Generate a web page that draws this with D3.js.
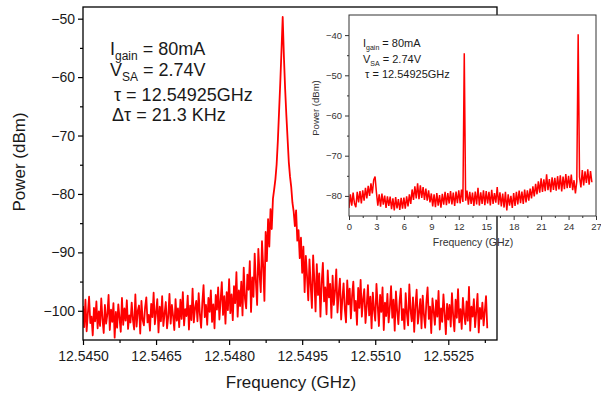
<!DOCTYPE html>
<html>
<head>
<meta charset="utf-8">
<script src="https://cdn.jsdelivr.net/npm/d3@7"></script>
<style>
  html, body { margin: 0; padding: 0; background: #fff; }
  svg { display: block; }
  text { white-space: pre; }
</style>
</head>
<body>
<div id="chart"></div>
<script>
// ---- main spectrum (zoom on the fundamental) ----
const mainFreqStart = 12.545;     // GHz, first sample
const mainFreqStep = 0.000025;    // GHz between samples
const mainPower = [
  -99.2,-102.8,-98.1,-103.5,-100.4,-97.6,-102.1,-101.0,-104.2,-99.5,
  -101.8,-98.4,-103.0,-100.1,-102.6,-97.9,-101.4,-103.8,-99.0,-102.2,
  -100.6,-97.3,-103.3,-99.8,-101.9,-98.7,-104.6,-100.2,-102.9,-98.9,
  -101.2,-103.6,-97.8,-102.4,-99.6,-101.7,-98.2,-103.1,-100.8,-102.0,
  -98.6,-101.5,-103.2,-97.2,-102.7,-100.0,-99.1,-103.9,-98.3,-101.6,
  -102.5,-99.4,-97.7,-102.0,-100.7,-103.4,-98.8,-101.1,-96.9,-102.3,
  -100.3,-98.0,-103.7,-99.3,-101.8,-97.5,-102.6,-100.5,-98.5,-103.0,
  -101.0,-97.1,-102.2,-99.0,-100.9,-103.3,-98.0,-101.7,-99.6,-102.8,
  -98.1,-101.4,-96.8,-102.5,-99.7,-100.9,-97.4,-103.2,-99.1,-101.6,
  -96.2,-102.0,-99.5,-98.3,-101.8,-97.0,-100.6,-102.9,-98.6,-95.6,
  -101.1,-99.0,-102.4,-97.8,-100.2,-96.5,-101.9,-98.9,-103.0,-97.3,
  -99.8,-96.0,-101.5,-98.2,-95.1,-100.7,-97.5,-102.2,-96.8,-99.9,
  -94.6,-100.4,-97.2,-101.6,-95.8,-98.7,-93.4,-101.0,-96.5,-99.2,
  -95.0,-100.8,-92.6,-97.9,-99.6,-93.8,-96.4,-91.5,-100.2,-94.3,
  -97.6,-90.2,-95.1,-99.0,-89.4,-93.7,-96.8,-88.1,-92.5,-98.3,
  -86.5,-91.5,-84.3,-89.0,-82.6,-86.0,-80.8,-79.2,-77.5,-75.0,
  -71.0,-66.0,-61.0,-55.5,-49.7,-56.5,-62.0,-66.5,-70.5,-74.5,
  -77.0,-78.8,-81.5,-83.0,-85.5,-82.8,-88.0,-86.2,-91.0,-87.5,
  -93.5,-89.0,-96.8,-90.6,-94.1,-98.2,-91.2,-95.7,-99.5,-90.5,
  -94.8,-100.1,-92.0,-97.3,-93.6,-101.0,-95.2,-91.8,-98.4,-96.0,
  -100.6,-93.1,-97.7,-95.4,-101.2,-94.0,-99.0,-96.6,-92.9,-100.3,
  -97.0,-94.5,-101.5,-98.0,-95.3,-99.7,-102.0,-94.8,-98.9,-96.2,
  -101.3,-97.4,-95.0,-100.0,-98.3,-102.4,-96.1,-99.5,-94.7,-101.0,
  -98.0,-96.3,-102.1,-99.2,-95.6,-100.8,-97.6,-103.0,-96.9,-99.8,
  -101.7,-95.4,-99.0,-102.6,-97.3,-100.2,-96.0,-103.3,-98.6,-100.9,
  -97.1,-102.0,-99.4,-95.8,-101.2,-98.1,-103.4,-96.7,-100.0,-102.3,
  -98.4,-96.2,-101.6,-99.7,-103.1,-97.0,-100.5,-102.5,-95.5,-99.9,
  -101.8,-97.7,-103.6,-99.1,-96.4,-102.2,-100.3,-98.0,-103.0,-97.4,
  -100.7,-102.9,-98.5,-96.0,-101.4,-99.3,-103.8,-97.9,-100.1,-102.4,
  -98.2,-101.0,-96.6,-103.2,-99.6,-101.9,-97.2,-100.4,-104.0,-98.8,
  -101.5,-99.0,-102.7,-97.0,-100.8,-103.5,-98.1,-101.2,-96.3,-102.0,
  -99.7,-103.1,-97.8,-100.6,-102.3,-98.4,-101.7,-95.9,-103.4,-99.3,
  -101.0,-98.0,-102.8,-100.2,-97.1,-103.7,-99.5,-101.4,-98.6,-102.5,
  -100.0,-97.5,-103.0
];

const mainXTicks = [12.5450, 12.5465, 12.5480, 12.5495, 12.5510, 12.5525];
const mainXMinor = [12.54575, 12.54725, 12.54875, 12.55025, 12.55175, 12.55325];
const mainYTicks = [-100, -90, -80, -70, -60, -50];
const mainYMinor = [-95, -85, -75, -65, -55];

// ---- inset spectrum (full span) ----
const insetFreqStart = 0;        // GHz
const insetFreqStep = 0.15;      // GHz between samples
const insetPower = [
  -83.0,-79.6,-82.4,-79.2,-81.9,-82.8,-79.0,-81.6,-78.8,-81.9,
  -78.6,-81.2,-78.0,-80.6,-77.5,-80.0,-76.9,-79.4,-76.0,-75.2,
  -79.2,-82.4,-79.6,-82.7,-79.4,-82.2,-79.9,-83.0,-80.1,-82.5,
  -80.2,-83.3,-80.6,-83.6,-80.3,-83.1,-80.8,-83.5,-80.5,-83.2,
  -80.4,-83.2,-80.1,-82.6,-79.6,-82.0,-78.4,-81.0,-77.6,-80.6,
  -76.9,-80.8,-77.4,-80.5,-77.8,-81.0,-78.2,-81.2,-78.6,-81.6,
  -79.4,-82.6,-79.6,-82.8,-79.3,-82.4,-79.8,-82.9,-79.5,-82.2,
  -79.0,-82.3,-79.3,-81.9,-78.8,-82.1,-79.2,-82.5,-78.9,-81.8,
  -78.6,-81.9,-78.4,-81.5,-44.5,-81.2,-78.7,-82.2,-79.0,-82.0,
  -79.2,-82.5,-78.9,-82.1,-78.0,-82.4,-79.1,-82.0,-78.6,-82.3,
  -78.8,-81.9,-79.0,-82.4,-78.5,-82.0,-79.3,-81.7,-77.8,-82.2,
  -79.1,-82.6,-79.4,-82.9,-79.0,-83.6,-79.6,-82.4,-80.0,-83.0,
  -79.3,-82.5,-79.0,-82.1,-78.7,-81.8,-78.9,-82.0,-78.4,-81.6,
  -78.6,-81.2,-78.2,-80.6,-77.6,-80.1,-77.0,-79.6,-76.4,-79.2,
  -75.6,-79.0,-75.9,-78.8,-74.6,-78.6,-75.8,-79.1,-75.4,-78.5,
  -75.5,-78.7,-75.1,-78.4,-74.9,-78.9,-75.2,-78.3,-74.6,-78.1,
  -75.0,-78.0,-74.7,-78.6,-76.1,-79.4,-76.4,-39.8,-75.3,-77.9,
  -73.6,-77.4,-73.9,-76.8,-73.4,-77.2,-73.8,-76.6
];

const insetXTicks = [0, 3, 6, 9, 12, 15, 18, 21, 24, 27];
const insetXMinor = [1.5, 4.5, 7.5, 10.5, 13.5, 16.5, 19.5, 22.5, 25.5];
const insetYTicks = [-80, -70, -60, -50, -40];
const insetYMinor = [-75, -65, -55, -45];

const FONT = '"Liberation Sans", Arial, Helvetica, sans-serif';
const RED = '#ff0000';

// creating svg
const svg = d3.select('#chart')
    .append('svg')
    .attr('width', 601)
    .attr('height', 394)
    .attr('font-family', FONT);

svg.append('rect').attr('width', 601).attr('height', 394).attr('fill', '#fff');

// ---------------- main chart ----------------
const mainBox = { left: 83, right: 497, top: 7, bottom: 340 };

const mainX = d3.scaleLinear()
    .domain([12.545, 12.5535])
    .range([mainBox.left, mainBox.right]);

const mainY = d3.scaleLinear()
    .domain([-105, -48])
    .range([mainBox.bottom, mainBox.top]);

svg.append('clipPath').attr('id', 'main-clip')
    .append('rect')
    .attr('x', mainBox.left).attr('y', mainBox.top)
    .attr('width', mainBox.right - mainBox.left)
    .attr('height', mainBox.bottom - mainBox.top);

// spectrum line
svg.append('path')
    .datum(mainPower)
    .attr('clip-path', 'url(#main-clip)')
    .attr('fill', 'none')
    .attr('stroke', RED)
    .attr('stroke-width', 1.8)
    .attr('stroke-linejoin', 'round')
    .attr('d', d3.line()
        .x((d, i) => mainX(mainFreqStart + i * mainFreqStep))
        .y(d => mainY(d)));

// frame
svg.append('rect')
    .attr('x', mainBox.left).attr('y', mainBox.top)
    .attr('width', mainBox.right - mainBox.left)
    .attr('height', mainBox.bottom - mainBox.top)
    .attr('fill', 'none')
    .attr('stroke', '#000')
    .attr('stroke-width', 1.3);

function styleAxis(g, size, color, tickColor, tickWidth) {
    g.attr('font-family', FONT).attr('font-size', size);
    g.select('.domain').remove();
    g.selectAll('.tick line').attr('stroke', tickColor).attr('stroke-width', tickWidth);
    g.selectAll('.tick text').attr('fill', color);
}

// axes
const mainXAxis = svg.append('g')
    .attr('transform', `translate(0,${mainBox.bottom})`)
    .call(d3.axisBottom(mainX).tickValues(mainXTicks).tickFormat(d3.format('.4f')).tickSize(5).tickPadding(6));
styleAxis(mainXAxis, 14, '#1a1a1a', '#000', 1.2);

svg.append('g')
    .attr('transform', `translate(0,${mainBox.bottom})`)
    .call(d3.axisBottom(mainX).tickValues(mainXMinor).tickFormat('').tickSize(3))
    .call(g => styleAxis(g, 14, '#1a1a1a', '#000', 1.2));

const mainYAxis = svg.append('g')
    .attr('transform', `translate(${mainBox.left},0)`)
    .call(d3.axisLeft(mainY).tickValues(mainYTicks).tickSize(5).tickPadding(3));
styleAxis(mainYAxis, 14, '#1a1a1a', '#000', 1.2);

svg.append('g')
    .attr('transform', `translate(${mainBox.left},0)`)
    .call(d3.axisLeft(mainY).tickValues(mainYMinor).tickFormat('').tickSize(3))
    .call(g => styleAxis(g, 14, '#1a1a1a', '#000', 1.2));

// axis titles
svg.append('text')
    .attr('x', 291).attr('y', 388)
    .attr('text-anchor', 'middle')
    .attr('font-size', 17)
    .attr('fill', '#1a1a1a')
    .text('Frequency (GHz)');

svg.append('text')
    .attr('transform', 'translate(25,162) rotate(-90)')
    .attr('text-anchor', 'middle')
    .attr('font-size', 17)
    .attr('fill', '#1a1a1a')
    .text('Power (dBm)');

// annotation (main)
function subLabel(x, y, main, sub, rest, size, subSize, shift) {
    const t = svg.append('text')
        .attr('x', x).attr('y', y)
        .attr('font-size', size)
        .attr('fill', '#1a1a1a');
    t.append('tspan').text(main);
    t.append('tspan').attr('font-size', subSize).attr('dy', shift).text(sub);
    t.append('tspan').attr('dy', -shift).text(rest);
}

subLabel(110, 55, 'I', 'gain', ' = 80mA', 18, 12, 5);
subLabel(110, 76, 'V', 'SA', ' = 2.74V', 18, 12, 5);
svg.append('text').attr('x', 114).attr('y', 101).attr('font-size', 18).attr('fill', '#1a1a1a')
    .text('\u03c4 = 12.54925GHz');
svg.append('text').attr('x', 112).attr('y', 121).attr('font-size', 18).attr('fill', '#1a1a1a')
    .text('\u0394\u03c4 = 21.3 KHz');

// ---------------- inset chart ----------------
const insetBox = { left: 349, right: 596, top: 15, bottom: 216 };

const insetX = d3.scaleLinear()
    .domain([0, 27])
    .range([insetBox.left, insetBox.right]);

const insetY = d3.scaleLinear()
    .domain([-85, -35])
    .range([insetBox.bottom, insetBox.top]);

// white panel over the main chart
svg.append('rect')
    .attr('x', insetBox.left).attr('y', insetBox.top)
    .attr('width', insetBox.right - insetBox.left)
    .attr('height', insetBox.bottom - insetBox.top)
    .attr('fill', '#fff');

svg.append('clipPath').attr('id', 'inset-clip')
    .append('rect')
    .attr('x', insetBox.left).attr('y', insetBox.top)
    .attr('width', insetBox.right - insetBox.left)
    .attr('height', insetBox.bottom - insetBox.top);

svg.append('path')
    .datum(insetPower)
    .attr('clip-path', 'url(#inset-clip)')
    .attr('fill', 'none')
    .attr('stroke', RED)
    .attr('stroke-width', 1.5)
    .attr('d', d3.line()
        .x((d, i) => insetX(insetFreqStart + i * insetFreqStep))
        .y(d => insetY(d)));

svg.append('rect')
    .attr('x', insetBox.left).attr('y', insetBox.top)
    .attr('width', insetBox.right - insetBox.left)
    .attr('height', insetBox.bottom - insetBox.top)
    .attr('fill', 'none')
    .attr('stroke', '#333')
    .attr('stroke-width', 1);

const insetXAxis = svg.append('g')
    .attr('transform', `translate(0,${insetBox.bottom})`)
    .call(d3.axisBottom(insetX).tickValues(insetXTicks).tickSize(4).tickPadding(3));
styleAxis(insetXAxis, 9.5, '#333', '#333', 1);

svg.append('g')
    .attr('transform', `translate(0,${insetBox.bottom})`)
    .call(d3.axisBottom(insetX).tickValues(insetXMinor).tickFormat('').tickSize(2))
    .call(g => styleAxis(g, 9.5, '#333', '#333', 1));

const insetYAxis = svg.append('g')
    .attr('transform', `translate(${insetBox.left},0)`)
    .call(d3.axisLeft(insetY).tickValues(insetYTicks).tickSize(4).tickPadding(3));
styleAxis(insetYAxis, 9.5, '#333', '#333', 1);

svg.append('g')
    .attr('transform', `translate(${insetBox.left},0)`)
    .call(d3.axisLeft(insetY).tickValues(insetYMinor).tickFormat('').tickSize(2))
    .call(g => styleAxis(g, 9.5, '#333', '#333', 1));

svg.append('text')
    .attr('x', 473).attr('y', 246)
    .attr('text-anchor', 'middle')
    .attr('font-size', 10.5)
    .attr('fill', '#333')
    .text('Frequency (GHz)');

svg.append('text')
    .attr('transform', 'translate(319,108) rotate(-90)')
    .attr('text-anchor', 'middle')
    .attr('font-size', 9.5)
    .attr('fill', '#333')
    .text('Power (dBm)');

// annotation (inset)
subLabel(363, 47, 'I', 'gain', ' = 80mA', 11, 7, 3);
subLabel(363, 63, 'V', 'SA', ' = 2.74V', 11, 7, 3);
svg.append('text').attr('x', 365).attr('y', 78).attr('font-size', 11).attr('fill', '#1a1a1a')
    .text('\u03c4 = 12.54925GHz');
</script>
</body>
</html>
